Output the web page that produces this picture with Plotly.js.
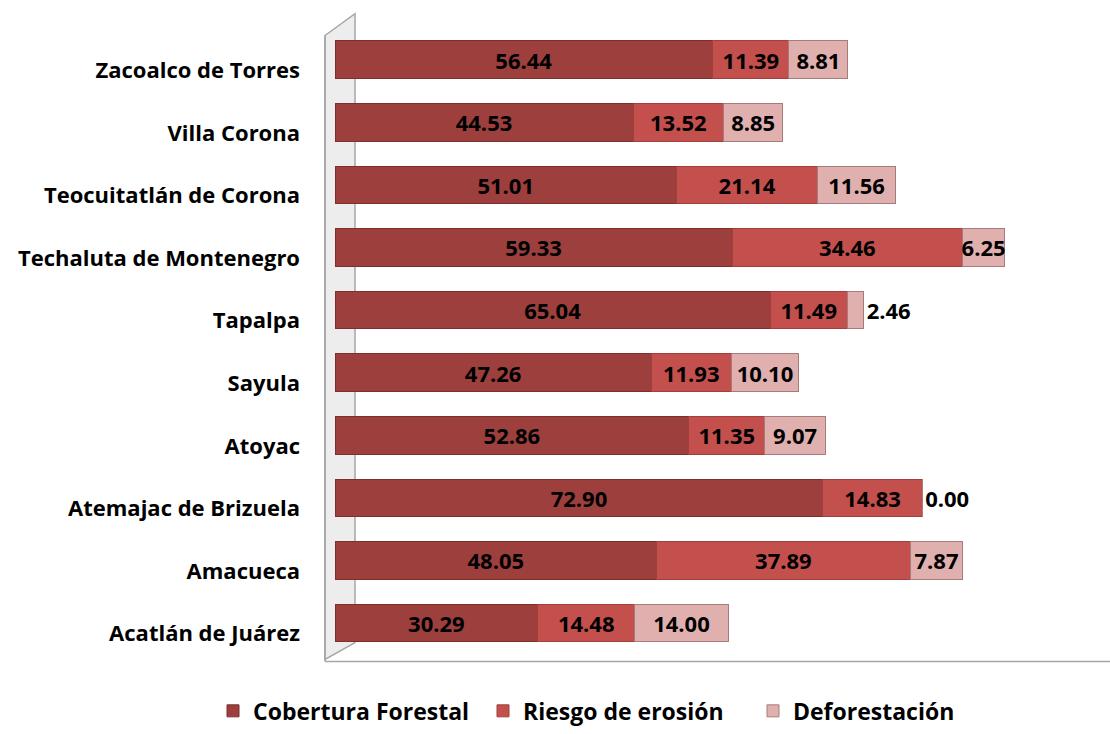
<!DOCTYPE html>
<html><head><meta charset="utf-8">
<script src="https://cdn.plot.ly/plotly-3.0.1.min.js"></script>
<style>body{margin:0;background:#fff}#c{width:1110px;height:734px}</style>
</head><body><div id="c"></div>
<script>
const categories = ["Acatlán de Juárez","Amacueca","Atemajac de Brizuela","Atoyac","Sayula","Tapalpa","Techaluta de Montenegro","Teocuitatlán de Corona","Villa Corona","Zacoalco de Torres"];
const coberturaForestal = [30.29,48.05,72.90,52.86,47.26,65.04,59.33,51.01,44.53,56.44];
const riesgoErosion = [14.48,37.89,14.83,11.35,11.93,11.49,34.46,21.14,13.52,11.39];
const deforestacion = [14.00,7.87,0.00,9.07,10.10,2.46,6.25,11.56,8.85,8.81];
const seriesNames = ["Cobertura Forestal","Riesgo de erosión","Deforestación"];

const W=1110,H=734,L=335,R=2,T=38.5,B=66.5;
const pw=W-L-R, ph=H-T-B;
const px=x=>(x-L)/pw, py=y=>(H-B-y)/ph;
const font="'Open Sans', sans-serif";
function mk(vals,name,color,line,pos){
  return {type:'bar',orientation:'h',y:categories,x:vals,name:name,
    width:0.6,offset:-0.13,
    marker:{color:color,line:{color:line,width:1}},
    text:vals.map(v=>v.toFixed(2)),texttemplate:'%{text}',
    textposition:pos||'inside',insidetextanchor:'middle',constraintext:'none',
    textfont:{family:font,size:22,color:'#000',weight:'bold'},
    cliponaxis:false,hoverinfo:'x+name'};
}
const data=[
  mk(coberturaForestal,seriesNames[0],'#9c3f3d','#7d2f2e'),
  mk(riesgoErosion,seriesNames[1],'#c3504d','#a13f3c'),
  mk(deforestacion,seriesNames[2],'#e0b0af','#a77b7a',deforestacion.map(v=>v<3?'outside':'inside'))
];
const shapes=[
  {type:'path',xref:'paper',yref:'paper',
   path:`M ${px(325)} ${py(35)} L ${px(355)} ${py(13)} L ${px(355)} ${py(645)} L ${px(325)} ${py(662)} Z`,
   fillcolor:'rgba(220,220,220,0.5)',line:{color:'#a6a6a6',width:1.5},layer:'below'},
  {type:'line',xref:'paper',yref:'paper',x0:px(325),x1:px(1110),y0:py(664),y1:py(664),line:{color:'#a6a6a6',width:1.5}},
  {type:'line',xref:'paper',yref:'paper',x0:px(325),x1:px(325),y0:py(35),y1:py(664),line:{color:'#a6a6a6',width:1.5}}
];
const layout={width:W,height:H,margin:{l:L,r:R,t:T,b:B},barmode:'stack',
  paper_bgcolor:'#fff',plot_bgcolor:'rgba(0,0,0,0)',showlegend:true,
  font:{family:font,color:'#000'},
  xaxis:{range:[0,115.5],visible:false,fixedrange:true},
  yaxis:{type:'category',range:[-0.5,9.5],showgrid:false,zeroline:false,showline:false,ticks:'',
    ticklabelstandoff:34,tickfont:{family:font,size:22,color:'#000',weight:'bold'}},
  legend:{orientation:'h',x:px(213),xanchor:'left',y:py(692),yanchor:'top',
    entrywidth:225,entrywidthmode:'pixels',
    font:{family:font,size:23,color:'#000',weight:'bold'},traceorder:'normal',itemwidth:30},
  shapes:shapes};
Plotly.newPlot('c',data,layout,{displayModeBar:false,staticPlot:true});
</script></body></html>
